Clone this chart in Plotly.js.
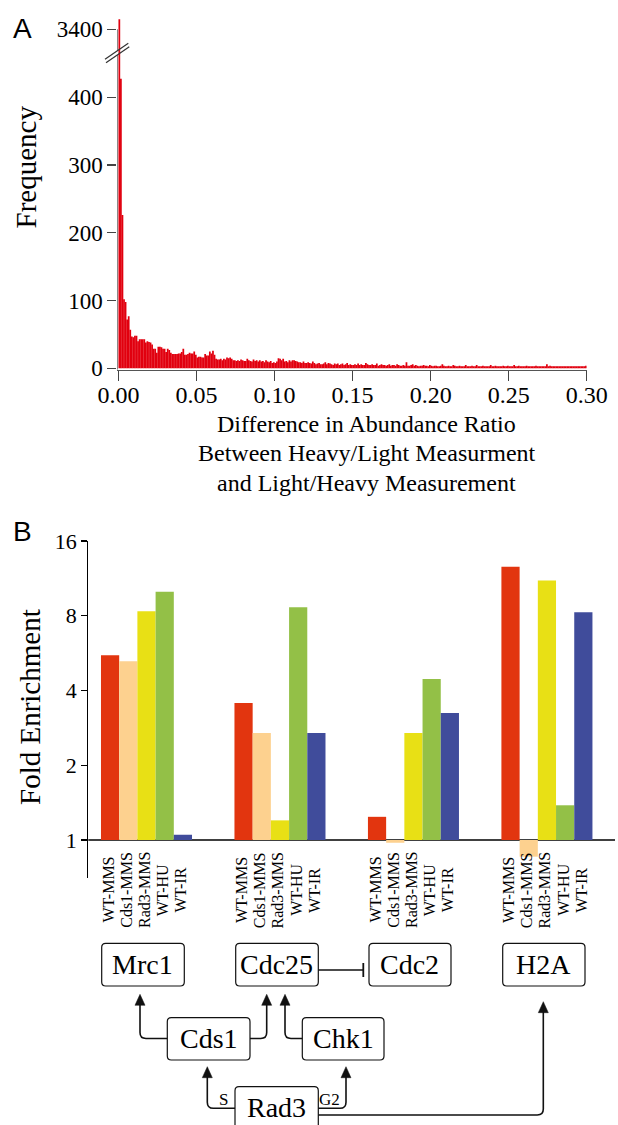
<!DOCTYPE html>
<html><head><meta charset="utf-8">
<script src="https://cdn.plot.ly/plotly-3.0.1.min.js"></script>
<style>html,body{margin:0;padding:0;background:#fff;}#chart{width:618px;height:1125px;}</style>
</head><body><div id="chart"></div>
<script>
// ---------- Panel A data ----------
const binWidth = 0.001;
const histCounts = [
3415,427,226,102,98,72,77,57,47,46,
48,48,40,43,43,43,43,38,40,39,
38,35,29,29,23,32,32,31,29,29,
24,29,27,23,21,21,21,21,22,22,
24,29,20,20,21,23,22,22,25,20,
16,17,17,16,16,21,19,19,25,22,
26,20,14,13,13,14,12,14,13,16,
15,16,14,12,12,11,12,11,13,12,
11,11,14,12,11,10,13,11,12,10,
12,10,11,9,12,10,9,11,8,9,
8,10,15,14,12,14,10,11,9,12,
10,12,12,11,10,9,9,8,10,8,
8,9,8,7,10,8,6,7,8,6,
6,7,9,6,8,7,6,5,7,6,
7,5,6,7,5,6,8,5,6,5,
5,6,5,7,5,6,5,5,8,6,
5,5,6,5,5,7,4,5,6,5,
5,4,5,6,4,5,5,4,6,5,
4,4,5,4,9,4,4,5,6,4,
5,4,3,4,4,5,4,4,3,5,
4,3,4,4,3,3,4,6,4,3,
3,4,3,3,5,4,3,3,4,3,
3,3,5,3,3,3,4,3,3,5,
3,3,3,4,3,3,3,3,5,3,
3,4,3,3,3,3,4,3,3,4,
3,3,3,5,3,3,4,3,3,3,
3,4,3,3,3,3,3,4,3,3,
3,3,3,3,6,3,4,3,3,3,
3,3,3,3,3,3,3,3,3,3,
3,3,3,3,3,3,3,3,3,4];
const yTickVals = [0,100,200,300,400,500];
const yTickText = ['0','100','200','300','400','3400'];
const xTickVals = [0,0.05,0.10,0.15,0.20,0.25,0.30];
const xTitleLines = ['Difference in Abundance Ratio','Between Heavy/Light Measurment','and Light/Heavy Measurement'];
const breakShownAt = 500, breakValue = 3400;

// ---------- Panel B data ----------
const genes = ['Mrc1','Cdc25','Cdc2','H2A'];
const conditions = ['WT-MMS','Cds1-MMS','Rad3-MMS','WT-HU','WT-IR'];
const wtMMS   = [5.55, 3.56, 1.24, 12.6];
const cds1MMS = [5.25, 2.70, 0.975, 0.857];
const rad3MMS = [8.35, 1.20, 2.70, 11.1];
const wtHU    = [10.0, 8.65, 4.45, 1.38];
const wtIR    = [1.05, 2.70, 3.25, 8.27];
const foldTickVals = [1,2,4,8,16];
const conditionColors = ['#E2350F','#FDD18F','#E8E015','#93C047','#404C9B'];

// ---------- helpers ----------
const W = 618, H = 1125;
const X = x => +(x / W).toFixed(5);
const Y = y => +(1 - y / H).toFixed(5);
const SERIF = 'Liberation Serif, Times New Roman, serif';
const SANS = 'Liberation Sans, Arial, sans-serif';

const shownCounts = histCounts.map(c => c > 1000 ? breakShownAt + (c - breakValue) : c);
const binCenters = histCounts.map((c, i) => (i + 0.5) * binWidth);

const traces = [{
  type: 'bar', x: binCenters, y: shownCounts, width: binWidth * 1.12,
  marker: {color: '#E1000F', line: {width: 0}},
  xaxis: 'x', yaxis: 'y', hoverinfo: 'skip', showlegend: false
}];
const seriesB = [wtMMS, cds1MMS, rad3MMS, wtHU, wtIR];
seriesB.forEach((vals, k) => {
  traces.push({
    type: 'bar', name: conditions[k], x: genes.map((g, i) => i), y: vals.map(v => Math.log2(v)),
    marker: {color: conditionColors[k], line: {width: 0}},
    xaxis: 'x2', yaxis: 'y2', showlegend: false, hoverinfo: 'skip'
  });
});

const shapes = [];
const annotations = [];
function rr(x0, y0, x1, y1, r) {
  return `M${X(x0+r)},${Y(y0)} L${X(x1-r)},${Y(y0)} Q${X(x1)},${Y(y0)} ${X(x1)},${Y(y0+r)} ` +
         `L${X(x1)},${Y(y1-r)} Q${X(x1)},${Y(y1)} ${X(x1-r)},${Y(y1)} L${X(x0+r)},${Y(y1)} ` +
         `Q${X(x0)},${Y(y1)} ${X(x0)},${Y(y1-r)} L${X(x0)},${Y(y0+r)} Q${X(x0)},${Y(y0)} ${X(x0+r)},${Y(y0)} Z`;
}
function pathShape(d, w, fill) {
  shapes.push({type: 'path', xref: 'paper', yref: 'paper', path: d,
    line: {color: '#111', width: w}, fillcolor: fill || 'rgba(0,0,0,0)', layer: 'above'});
}
function text(x, y, t, size, fam, extra) {
  annotations.push(Object.assign({xref: 'paper', yref: 'paper', x: X(x), y: Y(y), text: t,
    showarrow: false, xanchor: 'center', yanchor: 'middle',
    font: {family: fam || SERIF, size: size, color: '#000'}}, extra || {}));
}

// Panel A y-axis line with a break
const xMinA = -0.0008;
shapes.push({type: 'line', xref: 'x', yref: 'y', x0: xMinA, x1: xMinA, y0: -2, y1: 462, line: {color: '#444', width: 1.2}});
shapes.push({type: 'line', xref: 'x', yref: 'y', x0: xMinA, x1: xMinA, y0: 468, y1: 500, line: {color: '#444', width: 1.2}});
shapes.push({type: 'line', xref: 'paper', yref: 'paper', x0: X(105), y0: Y(59.3), x1: X(128.3), y1: Y(43.3), line: {color: '#333', width: 1.2}});
shapes.push({type: 'line', xref: 'paper', yref: 'paper', x0: X(106), y0: Y(62.7), x1: X(129.3), y1: Y(46.7), line: {color: '#333', width: 1.2}});

// Panel B baseline at fold = 1
shapes.push({type: 'line', xref: 'paper', yref: 'y2', x0: X(88.3), x1: X(615), y0: 0, y1: 0, line: {color: '#000', width: 1.5}, layer: 'below'});

// Panel letters and titles
text(22.5, 28.7, 'A', 28, SANS);
text(22.5, 531, 'B', 28, SANS);
text(26, 166.5, 'Frequency', 29, SERIF, {textangle: -90});
text(30, 707, 'Fold Enrichment', 29, SERIF, {textangle: -90});
xTitleLines.forEach((t, i) => text(367, 424.5 + i * 29, t, 24, SERIF));

// condition labels under each bar
const groupFrac = 1 - 0.318;
const wBar = groupFrac / conditions.length;
genes.forEach((g, i) => {
  conditions.forEach((c, k) => {
    annotations.push({xref: 'x2', yref: 'paper', x: i + (k - 2) * wBar, y: Y(890), xshift: -1.5,
      text: c, textangle: -90, showarrow: false, xanchor: 'center', yanchor: 'middle',
      font: {family: SERIF, size: 16, color: '#000'}});
  });
});

// Pathway diagram
const boxes = [
  [genes[0], 101.7, 943.3, 184.3, 986],
  [genes[1], 235.7, 943.3, 318.3, 986],
  [genes[2], 369, 943.3, 451, 986],
  [genes[3], 502.7, 943.3, 585, 986],
  ['Cds1', 167.3, 1017.7, 250, 1060],
  ['Chk1', 302.3, 1017.7, 384, 1060],
  ['Rad3', 235, 1086.7, 318.3, 1140]
];
boxes.forEach(b => {
  pathShape(rr(b[1], b[2], b[3], b[4], 4), 1.2);
  const cy = b[0] === 'Rad3' ? 1107.5 : (b[2] + b[4]) / 2;
  text((b[1] + b[3]) / 2, cy, b[0], 28, SERIF);
});
function elbow(x0, y0, xc, yEnd, r) {
  const dir = xc > x0 ? 1 : -1;
  return `M${X(x0)},${Y(y0)} L${X(xc - dir*r)},${Y(y0)} Q${X(xc)},${Y(y0)} ${X(xc)},${Y(y0 - r)} L${X(xc)},${Y(yEnd)}`;
}
function head(tx, ty) {
  return `M${X(tx)},${Y(ty)} L${X(tx-5)},${Y(ty+11)} L${X(tx+5)},${Y(ty+11)} Z`;
}
const arrows = [
  [167.3, 1038.5, 140, 994.3],
  [250, 1038.5, 266.7, 994.3],
  [302.3, 1038.5, 285, 994.3],
  [235, 1108.3, 207.3, 1066.7],
  [318.3, 1108.3, 346, 1066.7],
  [318.3, 1115, 543.3, 1001.7]
];
arrows.forEach(a => {
  pathShape(elbow(a[0], a[1], a[2], a[3] + 10, 6), 1.6);
  pathShape(head(a[2], a[3]), 0.5, '#111');
});
// inhibition Cdc25 -| Cdc2
pathShape(`M${X(318.3)},${Y(970)} L${X(363.3)},${Y(970)}`, 1.6);
pathShape(`M${X(363.3)},${Y(963)} L${X(363.3)},${Y(977)}`, 1.8);
text(223.3, 1099.5, 'S', 17, SERIF);
text(329.5, 1099.5, 'G2', 17, SERIF);

const layout = {
  width: W, height: H, margin: {l: 0, r: 0, t: 0, b: 0},
  paper_bgcolor: '#fff', plot_bgcolor: 'rgba(0,0,0,0)',
  barmode: 'group', bargap: 0.318, bargroupgap: 0, showlegend: false,
  xaxis: {domain: [X(117.3), X(586.7)], range: [xMinA, 0.3], anchor: 'y',
    tickvals: xTickVals, ticktext: xTickVals.map(v => v.toFixed(2)),
    showline: true, linecolor: '#555', linewidth: 1.2, ticks: 'outside', ticklen: 10, tickcolor: '#444', tickwidth: 1.2,
    ticklabelstandoff: -7,
    showgrid: false, zeroline: false, tickfont: {family: SERIF, size: 24, color: '#000'}},
  yaxis: {domain: [Y(369.7), Y(9)], range: [-2, 530], anchor: 'x',
    tickvals: yTickVals, ticktext: yTickText, showline: false,
    ticks: 'outside', ticklen: 9, tickcolor: '#444', tickwidth: 1.2,
    showgrid: false, zeroline: false, tickfont: {family: SERIF, size: 23, color: '#000'}},
  xaxis2: {domain: [X(88.3), X(615)], range: [-0.436, 3.51], anchor: 'y2', visible: false},
  yaxis2: {domain: [Y(878), Y(541)], range: [-0.508, 4], anchor: 'x2',
    tickvals: foldTickVals.map(v => Math.log2(v)), ticktext: foldTickVals.map(String),
    showline: true, linecolor: '#000', linewidth: 1.2, ticks: 'outside', ticklen: 6, tickcolor: '#000', tickwidth: 1.2,
    showgrid: false, zeroline: false, tickfont: {family: SERIF, size: 22, color: '#000'}},
  shapes: shapes, annotations: annotations
};
Plotly.newPlot('chart', traces, layout, {displayModeBar: false, staticPlot: true});
</script></body></html>
